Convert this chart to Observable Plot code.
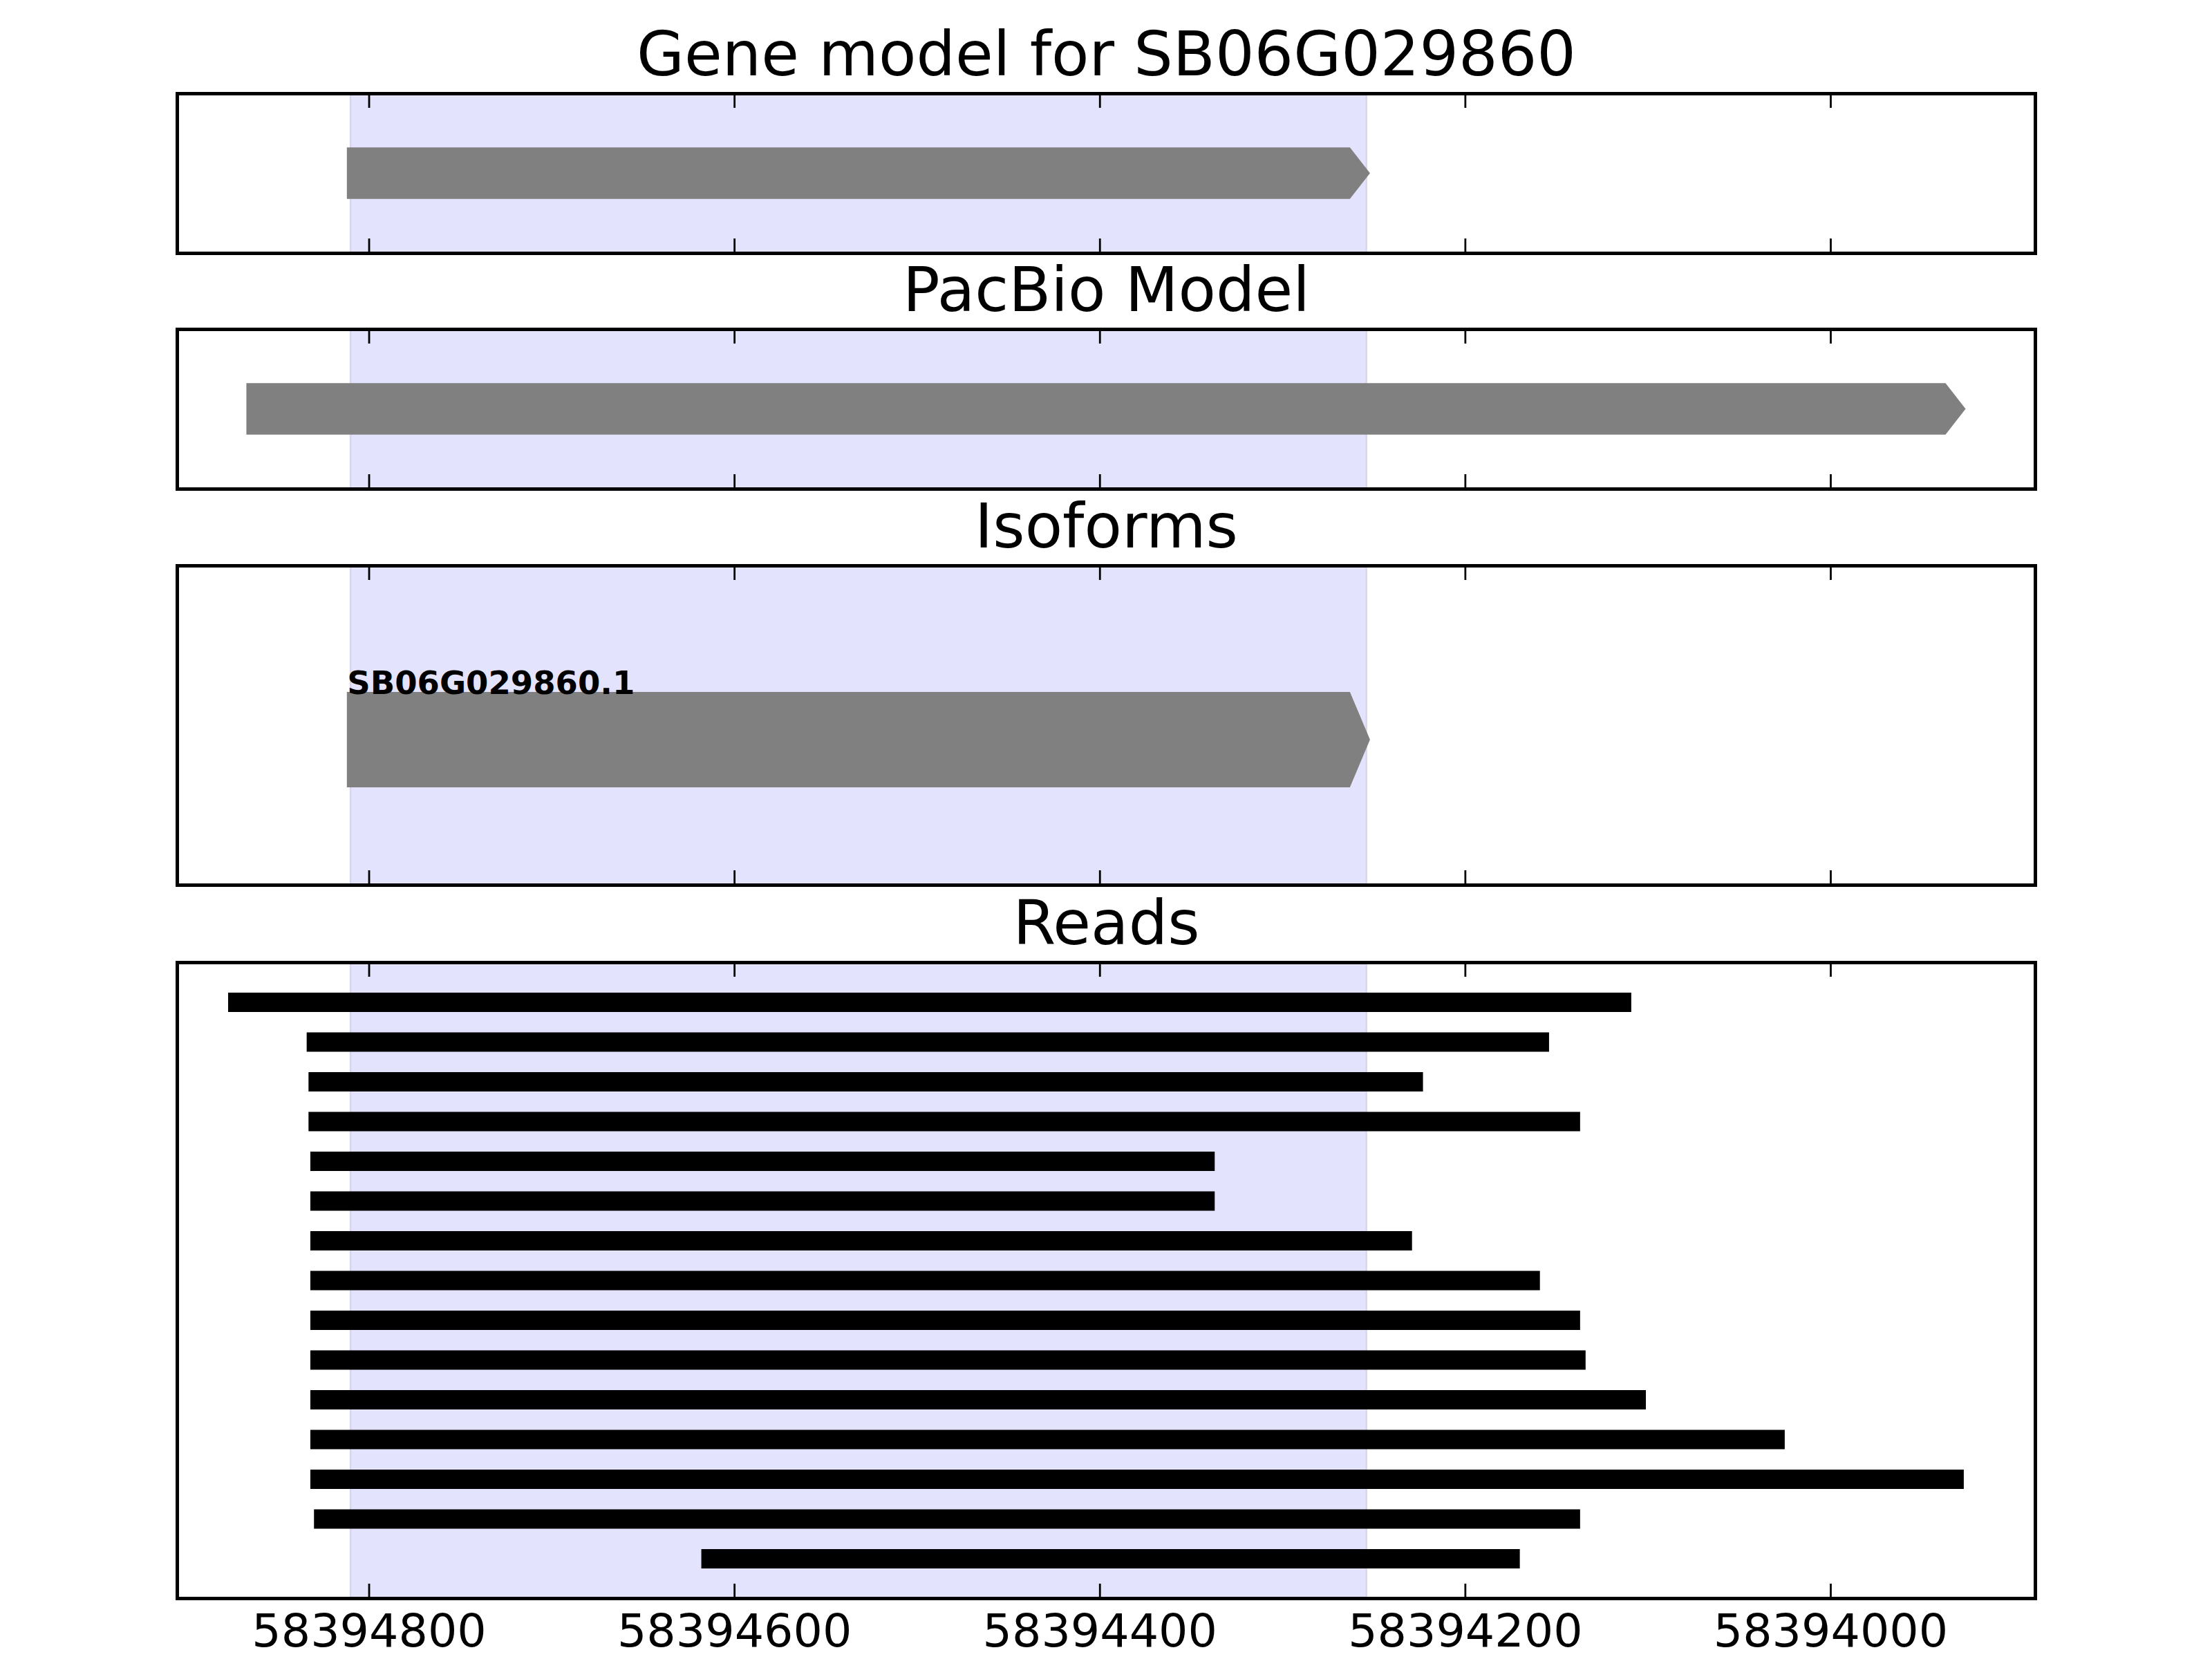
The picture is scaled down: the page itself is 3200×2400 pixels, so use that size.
<!DOCTYPE html>
<html><head><meta charset="utf-8">
<script src="https://cdn.jsdelivr.net/npm/d3@7"></script>
<script src="https://cdn.jsdelivr.net/npm/@observablehq/plot@0.6"></script>
<style>
html,body{margin:0;padding:0;background:#fff;}
#fig{position:relative;width:3200px;height:2400px;background:#fff;overflow:hidden;}
#fig svg{position:absolute;left:0;max-width:none;}
</style></head><body><div id="fig"></div>
<script>
// ---- data ----
const xTicks = [58394800, 58394600, 58394400, 58394200, 58394000];
const xDomain = [58394905, 58393888];
const panelTitles = ["Gene model for SB06G029860", "PacBio Model", "Isoforms", "Reads"];
const highlight = [58394810, 58394254];
const geneModel = [58394812, 58394252];
const pacbioModel = [58394867, 58393926];
const isoformNames = ["SB06G029860.1"];
const isoformStarts = [58394812];
const isoformEnds = [58394252];
const readStarts = [58394877, 58394834, 58394833, 58394833, 58394832, 58394832, 58394832, 58394832, 58394832, 58394832, 58394832, 58394832, 58394832, 58394830, 58394618];
const readEnds   = [58394109, 58394154, 58394223, 58394137, 58394337, 58394337, 58394229, 58394159, 58394137, 58394134, 58394101, 58394025, 58393927, 58394137, 58394170];

// ---- style constants ----
const FONT = "DejaVu Sans";
const W = 3200, ML = 256, MR = 256, MT = 120;
const headLen = 11;          // arrow head length (genomic units)
const TICK = 21, TICKW = 2.8, FRAMEW = 5;
const GRAY = "#808080", SHADE = "#e3e3fd";

const fig = document.getElementById("fig");

function arrowPoints(start, end, lo, hi) {
  const mid = (lo + hi) / 2;
  const flat = end + headLen * Math.sign(start - end);
  return [{x: start, y1: lo, y2: hi}, {x: flat, y1: lo, y2: hi}, {x: end, y1: mid, y2: mid}];
}

function panel({title, panelTop, h, yDomain, yReverse = false, marks, mb = 10}) {
  const plot = Plot.plot({
    width: W, height: MT + h + mb,
    marginLeft: ML, marginRight: MR, marginTop: MT, marginBottom: mb,
    style: {background: "transparent", fontFamily: FONT, color: "black"},
    x: {domain: xDomain, axis: null},
    y: {domain: yDomain, reverse: yReverse, axis: null},
    marks: [
      Plot.rect([highlight], {x1: d => d[0], x2: d => d[1], fill: SHADE, stroke: "#d6d6ee", strokeWidth: 2.5}),
      ...marks,
      Plot.tickX(xTicks, {x: d => d, insetTop: h - TICK, stroke: "black", strokeWidth: TICKW}),
      Plot.tickX(xTicks, {x: d => d, insetBottom: h - TICK, stroke: "black", strokeWidth: TICKW}),
      Plot.frame({stroke: "black", strokeWidth: FRAMEW}),
      Plot.text([title], {frameAnchor: "top", dy: -27, lineAnchor: "bottom", fontSize: 89, fill: "black", fontFamily: FONT})
    ]
  });
  plot.style.top = (panelTop - MT) + "px";
  fig.appendChild(plot);
}

// Panel 1: gene model
panel({title: panelTitles[0], panelTop: 135, h: 231, yDomain: [0, 1], marks: [
  Plot.areaY(arrowPoints(geneModel[0], geneModel[1], 0.339, 0.661), {x: "x", y1: "y1", y2: "y2", fill: GRAY})
]});

// Panel 2: PacBio model
panel({title: panelTitles[1], panelTop: 476, h: 231, yDomain: [0, 1], marks: [
  Plot.areaY(arrowPoints(pacbioModel[0], pacbioModel[1], 0.339, 0.661), {x: "x", y1: "y1", y2: "y2", fill: GRAY})
]});

// Panel 3: isoforms
const isoMarks = [];
isoformNames.forEach((name, i) => {
  isoMarks.push(Plot.areaY(arrowPoints(isoformStarts[i], isoformEnds[i], 0.305, 0.604), {x: "x", y1: "y1", y2: "y2", fill: GRAY}));
  isoMarks.push(Plot.text([name], {x: () => isoformStarts[i], y: () => 0.604, text: d => d, textAnchor: "start", lineAnchor: "bottom", dy: 3, fontSize: 46.5, fontWeight: "bold", fill: "black", fontFamily: FONT}));
});
panel({title: panelTitles[2], panelTop: 818, h: 462, yDomain: [0, 1], marks: isoMarks});

// Panel 4: reads
const reads = readStarts.map((s, i) => ({row: i, start: s, end: readEnds[i]}));
panel({title: panelTitles[3], panelTop: 1392, h: 920, yDomain: [-1, 15], yReverse: true, mb: 88, marks: [
  Plot.ruleY(reads, {y: "row", x1: "start", x2: "end", stroke: "black", strokeWidth: 28}),
  Plot.axisX({anchor: "bottom", ticks: xTicks, tickSize: 0, tickPadding: 22, tickFormat: d => String(d), fontSize: 66.7, label: null, fill: "black", fontFamily: FONT})
]});
</script></body></html>
